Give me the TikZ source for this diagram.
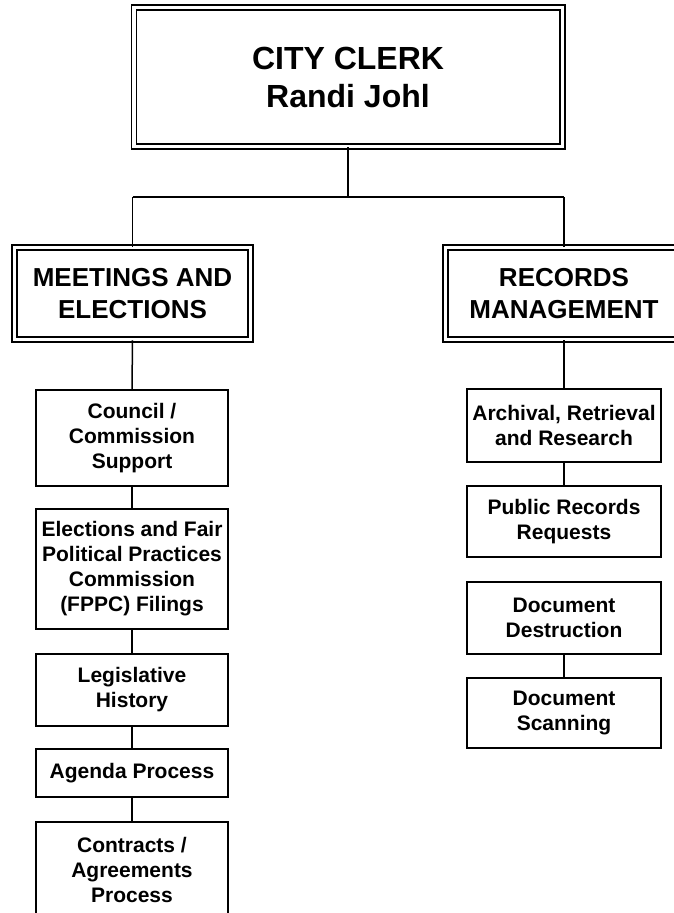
\documentclass[tikz,border=0pt]{standalone}
\usepackage{fontspec}
\setmainfont{Liberation Sans}
\begin{document}
\begin{tikzpicture}[x=1pt,y=-1pt,
  conn/.style={line width=1.5pt, black},
  dbox/.style={draw, line width=1.5pt, double=white, double distance=3.5pt, inner sep=0pt, align=center, font=\bfseries},
  sbox/.style={draw, line width=1.6pt, inner sep=0pt, align=center, minimum width=192pt, font=\fontsize{21}{25}\selectfont\bfseries},
  rbox/.style={sbox, minimum width=194pt}]
\path[use as bounding box] (0,0) rectangle (674,913);
\clip (0,0) rectangle (674,913);
% top
\node[dbox, minimum width=428.5pt, minimum height=139pt, font=\fontsize{32}{38}\selectfont\bfseries] (top) at (348,77) {CITY CLERK\\Randi Johl};
\node[dbox, minimum width=236pt, minimum height=92pt, font=\fontsize{26}{31.5}\selectfont\bfseries] (me) at (132.5,293.5) {MEETINGS AND\\ELECTIONS};
\node[dbox, minimum width=237pt, minimum height=92pt, font=\fontsize{26}{31.5}\selectfont\bfseries] (rm) at (564,293.5) {RECORDS\\MANAGEMENT};
% left column
\node[sbox, minimum height=96pt] (c1) at (132,438) {Council /\\Commission\\Support};
\node[sbox, minimum height=120pt] (c2) at (132,569) {Elections and Fair\\Political Practices\\Commission\\(FPPC) Filings};
\node[sbox, minimum height=72pt] (c3) at (132,690) {Legislative\\History};
\node[sbox, minimum height=48pt] (c4) at (132,773) {Agenda Process};
\node[sbox, minimum height=96pt] (c5) at (132,870) {Contracts /\\Agreements\\Process};
% right column
\node[rbox, minimum height=73pt] (r1) at (564,425.5) {Archival, Retrieval\\and Research};
\node[rbox, minimum height=71pt] (r2) at (564,521.5) {Public Records\\Requests};
\node[rbox, minimum height=72pt] (r3) at (564,618) {Document\\Destruction};
\node[rbox, minimum height=70pt] (r4) at (564,713) {Document\\Scanning};
% connectors
\coordinate (j) at (348,197);
\coordinate (jl) at (132.5,197);
\coordinate (jr) at (564,197);
\draw[conn] (top.south) -- (j);
\draw[conn] (jl) -- (jr);
\draw[conn] (jl) -- (me.north);
\draw[conn] (jr) -- (rm.north);
\draw[conn] (me.south) -- (c1.north);
\draw[conn] (c1) -- (c2);
\draw[conn] (c2) -- (c3);
\draw[conn] (c3) -- (c4);
\draw[conn] (c4) -- (c5);
\draw[conn] (rm.south) -- (r1.north);
\draw[conn] (r1) -- (r2);
\draw[conn] (r3) -- (r4);
\end{tikzpicture}
\end{document}
